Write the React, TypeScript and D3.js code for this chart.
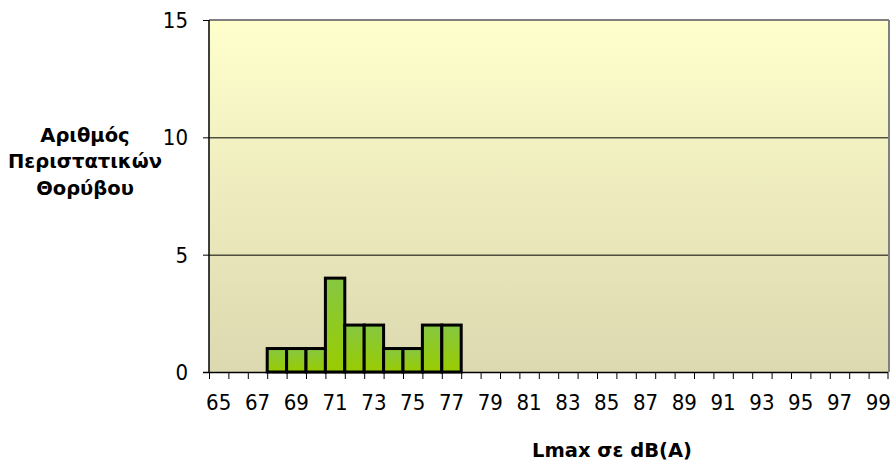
import React from "react";
import * as d3 from "d3";

const categories: number[] = d3.range(65, 100);
const counts: number[] = [0, 0, 0, 1, 1, 1, 4, 2, 2, 1, 1, 2, 2, 0, 0, 0, 0, 0, 0, 0, 0, 0, 0, 0, 0, 0, 0, 0, 0, 0, 0, 0, 0, 0, 0];
const yTicks: number[] = [0, 5, 10, 15];
const yTitle: string[] = ["Αριθμός", "Περιστατικών", "Θορύβου"];
const xTitle = "Lmax σε dB(A)";

export default function App() {
  const W = 893, H = 463;
  const left = 209, right = 888, top = 20, bottom = 372;
  const x = d3.scaleBand<number>().domain(categories).range([left, right]).padding(0);
  const y = d3.scaleLinear().domain([0, 15]).range([bottom, top]);
  const font = "'DejaVu Sans Condensed', 'Liberation Sans', sans-serif";
  const boldFont = "'DejaVu Sans', sans-serif";
  const bw = x.bandwidth();
  return (
    <svg width={W} height={H} style={{ position: "absolute", left: 0, top: 0 }} fontFamily={font}>
      <defs>
        <linearGradient id="bg" x1="0" y1="0" x2="0" y2="1">
          <stop offset="0" stopColor="#FFFFCC" />
          <stop offset="1" stopColor="#DCD8B0" />
        </linearGradient>
        <linearGradient id="bar" x1="0" y1="0" x2="0" y2="1">
          <stop offset="0" stopColor="#86C742" />
          <stop offset="1" stopColor="#99CC00" />
        </linearGradient>
      </defs>
      <rect x={0} y={0} width={W} height={H} fill="#fff" />
      <rect x={left} y={top} width={right - left} height={bottom - top} fill="url(#bg)" />
      <line x1={left} x2={right + 1} y1={top} y2={top} stroke="#808080" strokeWidth={2} />
      <line x1={right + 1} x2={right + 1} y1={top} y2={bottom} stroke="#808080" strokeWidth={2} />
      {yTicks.filter(t => t > 0 && t < 15).map(t => (
        <line key={t} x1={left} x2={right} y1={y(t) + 0.5} y2={y(t) + 0.5} stroke="#000" strokeWidth={1} />
      ))}
      {categories.map((c, i) => counts[i] > 0 ? (
        <rect key={c} x={x(c)!} y={y(counts[i])} width={bw} height={y(0) - y(counts[i])}
          fill="url(#bar)" stroke="#000" strokeWidth={3} />
      ) : null)}
      <line x1={left} x2={left} y1={top} y2={bottom} stroke="#000" strokeWidth={1.5} />
      {yTicks.map(t => (
        <g key={t}>
          <line x1={left - 6} x2={left} y1={y(t) + 0.5} y2={y(t) + 0.5} stroke="#000" strokeWidth={1} />
          <text x={188} y={y(t) + 8} textAnchor="end" fontSize={22} fill="#000">{t}</text>
        </g>
      ))}
      <line x1={left - 6} x2={right} y1={bottom + 0.5} y2={bottom + 0.5} stroke="#000" strokeWidth={1.5} />
      {categories.map((c) => (
        <line key={"t" + c} x1={x(c)! + 0.5} x2={x(c)! + 0.5} y1={bottom} y2={bottom + 7} stroke="#000" strokeWidth={1} />
      ))}
      <line x1={right} x2={right} y1={bottom} y2={bottom + 7} stroke="#000" strokeWidth={1} />
      {categories.map((c, i) => i % 2 === 0 ? (
        <text key={"l" + c} x={x(c)! + bw / 2} y={410} textAnchor="middle" fontSize={22} fill="#000">{c}</text>
      ) : null)}
      {yTitle.map((s, i) => (
        <text key={s} x={85} y={141.7 + i * 26.7} textAnchor="middle" fontSize={19.5} fontWeight="bold" fontFamily={boldFont} fill="#000">{s}</text>
      ))}
      <text x={612} y={457} textAnchor="middle" fontSize={19.5} fontWeight="bold" fontFamily={boldFont} fill="#000">{xTitle}</text>
    </svg>
  );
}
